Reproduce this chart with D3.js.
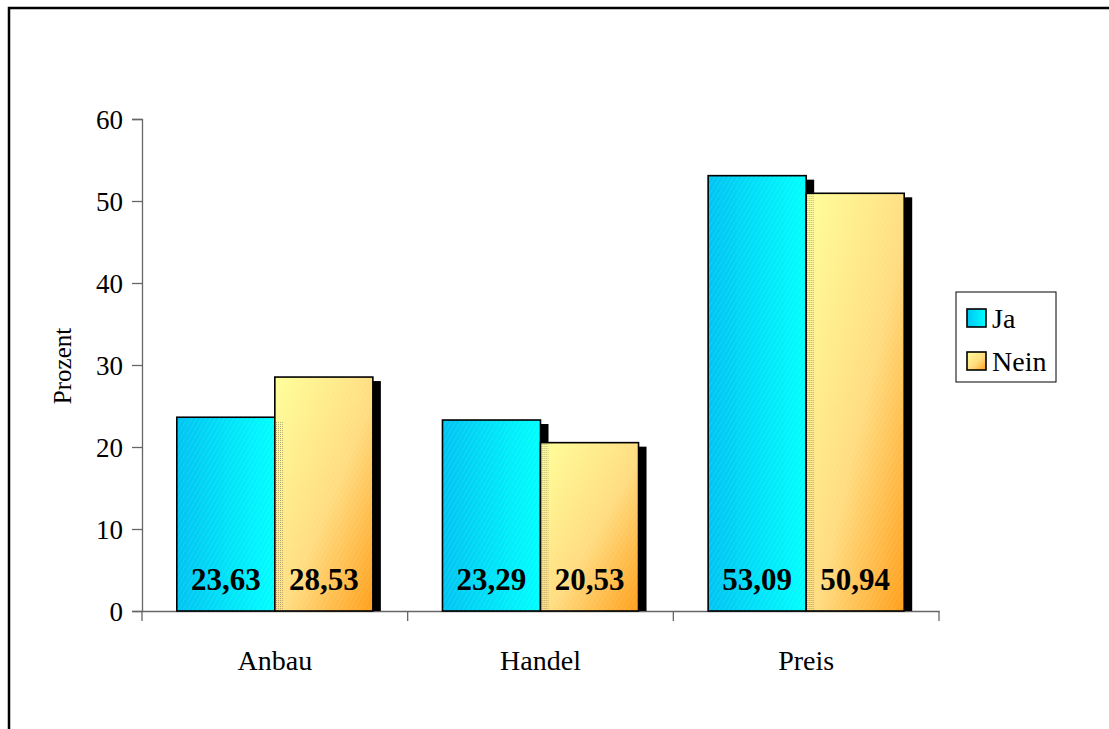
<!DOCTYPE html>
<html>
<head>
<meta charset="utf-8">
<title>Prozent</title>
<script src="https://cdn.jsdelivr.net/npm/d3@7"></script>
<style>
  body { margin: 0; background: #fff; }
  text { font-family: "Liberation Serif", "Times New Roman", serif; fill: #000; }
</style>
</head>
<body>
<script>
// data
var categories = ['Anbau', 'Handel', 'Preis'];
var seriesNames = ['Ja', 'Nein'];
var jaValues = [23.63, 23.29, 53.09];
var neinValues = [28.53, 20.53, 50.94];
var yTicks = [0, 10, 20, 30, 40, 50, 60];

var w = 1109, h = 729;
var plot = {left: 142, right: 939, top: 119, bottom: 611};

var svg = d3.select('body').append('svg').attr('width', w).attr('height', h);
var defs = svg.append('defs');

// gradients
var gJa = defs.append('linearGradient').attr('id', 'gJa')
  .attr('x1', '0%').attr('y1', '0%').attr('x2', '100%').attr('y2', '0%');
gJa.append('stop').attr('offset', '0%').attr('stop-color', '#00c4f2');
gJa.append('stop').attr('offset', '100%').attr('stop-color', '#00ffff');

var gNein = defs.append('linearGradient').attr('id', 'gNein')
  .attr('x1', '0%').attr('y1', '0%').attr('x2', '100%').attr('y2', '100%');
gNein.append('stop').attr('offset', '0%').attr('stop-color', '#ffff99');
gNein.append('stop').attr('offset', '55%').attr('stop-color', '#ffdc80');
gNein.append('stop').attr('offset', '100%').attr('stop-color', '#ff9f1a');

// fine hatch texture
var hatch = defs.append('pattern').attr('id', 'hatch').attr('patternUnits', 'userSpaceOnUse')
  .attr('width', 4).attr('height', 4).attr('patternTransform', 'rotate(30)');
hatch.append('line').attr('x1', 0).attr('y1', 0).attr('x2', 0).attr('y2', 4)
  .attr('stroke', '#fff').attr('stroke-width', 1).attr('stroke-opacity', 0.18);

var stipple = defs.append('pattern').attr('id', 'stipple').attr('patternUnits', 'userSpaceOnUse')
  .attr('width', 2).attr('height', 2);
stipple.append('rect').attr('width', 1).attr('height', 1).attr('fill', '#555').attr('fill-opacity', 0.45);

// outer frame
svg.append('path').attr('d', 'M9,' + h + 'V8H' + w)
  .attr('fill', 'none').attr('stroke', '#000').attr('stroke-width', 2.5);

// scales
var x = d3.scaleBand().domain(categories).range([plot.left, plot.right]).padding(0);
var xSub = d3.scaleBand().domain(seriesNames).range([0, x.bandwidth()])
  .paddingInner(0).paddingOuter(0.355);
var y = d3.scaleLinear().domain([0, 60]).range([plot.bottom, plot.top]);

var rows = categories.map(function(c, i) {
  return {cat: c, values: [{key: 'Ja', v: jaValues[i]}, {key: 'Nein', v: neinValues[i]}]};
});
var fills = {Ja: 'url(#gJa)', Nein: 'url(#gNein)'};

// axes
var yAxis = d3.axisLeft(y).tickValues(yTicks).tickSize(10).tickPadding(9);
var gy = svg.append('g').attr('transform', 'translate(' + plot.left + ',0)').call(yAxis)
  .attr('font-family', '"Liberation Serif", serif').attr('font-size', 27);
gy.selectAll('text').attr('dy', '0.35em');
gy.selectAll('line, path').attr('stroke', '#666').attr('stroke-width', 1.3);

var xAxis = d3.axisBottom(x).tickValues([]).tickSize(0);
var gx = svg.append('g').attr('transform', 'translate(0,' + plot.bottom + ')').call(xAxis);
gx.select('path').attr('stroke', '#666').attr('stroke-width', 1.3);
// category boundary ticks
var edges = [plot.left].concat(categories.map(function(c) { return x(c) + x.bandwidth(); }));
gx.selectAll('.edge').data(edges).enter().append('line')
  .attr('x1', function(d) { return d; }).attr('x2', function(d) { return d; })
  .attr('y1', 0).attr('y2', 10).attr('stroke', '#666').attr('stroke-width', 1.3);
gx.selectAll('.cat').data(categories).enter().append('text')
  .attr('x', function(d) { return x(d) + x.bandwidth() / 2; })
  .attr('y', 59).attr('text-anchor', 'middle').attr('font-size', 28)
  .text(function(d) { return d; });

// y title
svg.append('text').attr('transform', 'translate(71,366) rotate(-90)')
  .attr('text-anchor', 'middle').attr('font-size', 25).text('Prozent');

// bars
var groups = svg.selectAll('g.grp').data(rows).enter().append('g').attr('class', 'grp')
  .attr('transform', function(d) { return 'translate(' + x(d.cat) + ',0)'; });

// shadows (drawn first)
groups.selectAll('rect.shadow').data(function(d) { return d.values; }).enter().append('rect')
  .attr('class', 'shadow')
  .attr('x', function(d) { return xSub(d.key) + 8; })
  .attr('y', function(d) { return y(d.v) + 4; })
  .attr('width', xSub.bandwidth())
  .attr('height', function(d) { return y(0) - y(d.v) - 4; })
  .attr('fill', '#000');

groups.each(function(d) {
  var g = d3.select(this);
  d.values.forEach(function(s) {
    var bx = xSub(s.key), by = y(s.v), bh = y(0) - y(s.v);
    g.append('rect').attr('x', bx).attr('y', by).attr('width', xSub.bandwidth()).attr('height', bh)
      .attr('fill', fills[s.key]);
    g.append('rect').attr('x', bx).attr('y', by).attr('width', xSub.bandwidth()).attr('height', bh)
      .attr('fill', 'url(#hatch)');
    if (s.key === 'Nein') {
      // see-through shadow of the Ja bar on the Nein bar
      var jaTop = y(d.values[0].v) + 4;
      var top = Math.max(jaTop, by);
      g.append('rect').attr('x', bx).attr('y', top).attr('width', 8).attr('height', y(0) - top)
        .attr('fill', 'url(#stipple)');
    }
    g.append('rect').attr('x', bx).attr('y', by).attr('width', xSub.bandwidth()).attr('height', bh)
      .attr('fill', 'none').attr('stroke', '#000').attr('stroke-width', 1.6);
    g.append('text').attr('x', bx + xSub.bandwidth() / 2).attr('y', 590)
      .attr('text-anchor', 'middle').attr('font-size', 31).attr('font-weight', 'bold')
      .text(d3.format('.2f')(s.v).replace('.', ','));
  });
});

// legend
var lg = svg.append('g').attr('transform', 'translate(956,292)');
lg.append('rect').attr('width', 100).attr('height', 90).attr('fill', '#fff')
  .attr('stroke', '#000').attr('stroke-width', 1);
lg.selectAll('g.item').data(seriesNames).enter().append('g').attr('class', 'item')
  .attr('transform', function(d, i) { return 'translate(11,' + (17 + i * 43) + ')'; })
  .each(function(d) {
    var it = d3.select(this);
    it.append('rect').attr('width', 19).attr('height', 18).attr('fill', fills[d])
      .attr('stroke', '#000').attr('stroke-width', 1.6);
    it.append('text').attr('x', 25).attr('y', 19).attr('font-size', 28).text(d);
  });
</script>
</body>
</html>
